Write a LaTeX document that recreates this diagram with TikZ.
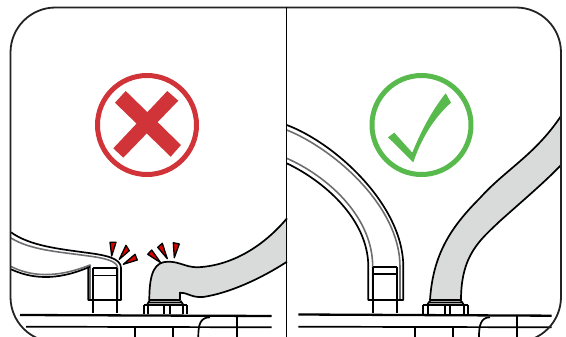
\documentclass[tikz,border=0pt]{standalone}
\usepackage{tikz}
\definecolor{dauRed}{HTML}{D13438}
\definecolor{dauGreen}{HTML}{58B94C}
\definecolor{ongGray}{HTML}{D9DBDA}
\definecolor{vienGray}{HTML}{6E6E72}
\definecolor{khungDark}{HTML}{232323}

\begin{document}
\begin{tikzpicture}[x=1pt, y=-1pt, line join=round,
    ongline/.style={black, line width=1.7pt},
    grayline/.style={vienGray, line width=1.6pt},
    baseline/.style={black, line width=2.3pt},
    nutline/.style={black, line width=2pt},
    spark/.style={draw=black, fill=red!85!black, line width=1.3pt}]
    \useasboundingbox (0,0) rectangle (566,337);
    \clip (0,0) rectangle (566,337);

    % Ống xám bên trái (sai)
    \fill[ongGray] (287,218.3) .. controls (262,248) and (230,266) .. (197,267.3) .. controls (185,267) and (180,261.7) .. (168,261.7) .. controls (155,261.7) and (149.3,272) .. (149.3,300)
        -- (180,300) -- (180,292.7) .. controls (186,292) and (192,298) .. (203,297) .. controls (230,293) and (262,278) .. (287,261.7) -- cycle;
    \draw[ongline] (287,218.3) .. controls (262,248) and (230,266) .. (197,267.3) .. controls (185,267) and (180,261.7) .. (168,261.7) .. controls (155,261.7) and (149.3,272) .. (149.3,300)
        -- (180,300) -- (180,292.7) .. controls (186,292) and (192,298) .. (203,297) .. controls (230,293) and (262,278) .. (287,261.7);

    % Ống trắng bị gập
    \draw[grayline] (11,238) .. controls (30,250) and (60,252) .. (85,255.5) .. controls (105,258) and (117.5,261) .. (117.5,268) -- (117.5,300);
    \draw[grayline] (11,266.5) .. controls (30,276) and (55,279) .. (90,265) -- (90,300);
    \draw[ongline] (11,232.3) .. controls (30,246) and (60,249) .. (85,252.5) .. controls (105,255) and (121,258) .. (121,268) -- (121,300) -- (88.3,300) -- (88.3,268);
    \draw[ongline] (11,269.3) .. controls (30,278) and (55,282) .. (90,266.7);
    \draw[ongline] (92.7,268) -- (92.7,313) (117,268) -- (117,313);
    \draw[ongline] (92.7,268) -- (117,268) (92.7,275.5) -- (117,275.5);

    % Tia đỏ
    \draw[spark] (110,242.3) -- (116,242.3) -- (111.7,256) -- cycle;
    \draw[spark] (126,245.3) -- (129.3,250.7) -- (119.3,259.3) -- cycle;
    \draw[spark] (135,254.3) -- (137.3,260) -- (123.3,264.3) -- cycle;
    \draw[spark] (151.7,250) -- (147.7,254.3) -- (160.7,262.7) -- cycle;
    \draw[spark] (162.3,243.3) -- (157.7,247.3) -- (167.3,258.7) -- cycle;
    \draw[spark] (173.3,242.7) -- (179.3,244) -- (174.3,257.7) -- cycle;

    % Đai ốc và nền bên trái
    \draw[ongline] (149.3,300.7) -- (147,305) (180.5,300.7) -- (183.5,305) (149,302.5) -- (182,302.5);
    \draw[nutline] (144,305) -- (186.7,305) (144,305) -- (144,314) (148,305) -- (148,314) (183,305) -- (183,314) (186.7,305) -- (186.7,314) (164.3,305) -- (164.3,314) (170,305) -- (170,314);
    \draw[baseline] (20,315) -- (271.7,316);
    \draw[ongline] (26,326.7) -- (271.7,327.3);
    \draw[ongline] (135,327) -- (135,337) (172.7,327) -- (172.7,337) (237.3,316) -- (237.3,337);
    \draw[ongline] (198.3,337) .. controls (198.3,325) and (200,317.3) .. (210,317.3);

    % Dấu X
    \draw[dauRed, line width=5pt] (147,125) circle (49.5);
    \fill[dauRed] (125.7,91) -- (115,102.7) -- (170.7,156.7) -- (181,145) -- cycle;
    \fill[dauRed] (167.3,91) -- (178.3,100.7) -- (123.3,157.7) -- (113.3,148.3) -- cycle;

    % Dấu tích
    \draw[dauGreen, line width=5pt] (421.5,125) circle (49.5);
    \fill[dauGreen] (388,137.3) -- (394.3,132.7) -- (412.3,152.7) .. controls (420,134) and (430,113) .. (445.7,93.3) -- (451,102.7) .. controls (436,116) and (422,136) .. (413.3,162.3) -- cycle;

    % Ống cong trắng bên phải (đúng)
    \draw[grayline] (286.7,130) .. controls (332,148) and (400,205) .. (400,266.7) -- (400,300);
    \draw[grayline] (286.7,158.3) .. controls (325,175) and (372.7,215) .. (372.7,266.7) -- (372.7,300);
    \draw[ongline] (286.7,125) .. controls (335,143) and (403.3,205) .. (403.3,266.7) -- (403.3,300) -- (368.3,300) -- (368.3,266.7) .. controls (368.3,218) and (322,180) .. (286.7,163.3);
    \draw[ongline] (372.7,267.3) -- (372.7,313) (397.3,267.3) -- (397.3,313);
    \draw[ongline] (372.7,267.3) -- (397.3,267.3) (372.7,274) -- (397.3,274);

    % Ống xám bên phải
    \fill[ongGray] (561,116) .. controls (535,155) and (505,170) .. (480,198) .. controls (450,228) and (433,255) .. (430,300)
        -- (461,300) .. controls (461,255) and (480,240) .. (500,221) .. controls (520,203) and (545,182) .. (561,165) -- cycle;
    \draw[ongline] (561,116) .. controls (535,155) and (505,170) .. (480,198) .. controls (450,228) and (433,255) .. (430,300)
        -- (461,300) .. controls (461,255) and (480,240) .. (500,221) .. controls (520,203) and (545,182) .. (561,165);

    % Đai ốc và nền bên phải
    \draw[ongline] (430,300.7) -- (427,305) (461,300.7) -- (464,305) (429,302.5) -- (462,302.5);
    \draw[nutline] (423.3,305) -- (467.7,305) (423.3,305) -- (423.3,314) (427.5,305) -- (427.5,314) (464,305) -- (464,314) (467.7,305) -- (467.7,314) (445,305) -- (445,314) (450,305) -- (450,314);
    \draw[baseline] (298.3,314.5) -- (551.7,315.7);
    \draw[ongline] (298.3,326.7) -- (551.7,327.3);
    \draw[ongline] (415,327) -- (415,337) (452.7,327) -- (452.7,337) (517.3,316) -- (517.3,337);
    \draw[ongline] (479,337) .. controls (479,325) and (481,317.3) .. (490,317.3);

    % Khung và đường chia
    \draw[khungDark, line width=1.8pt, rounded corners=45pt] (10.5,7.5) rectangle (561,342);
    \draw[black, line width=1.2pt] (286.5,7.5) -- (286.5,337);
\end{tikzpicture}
\end{document}
